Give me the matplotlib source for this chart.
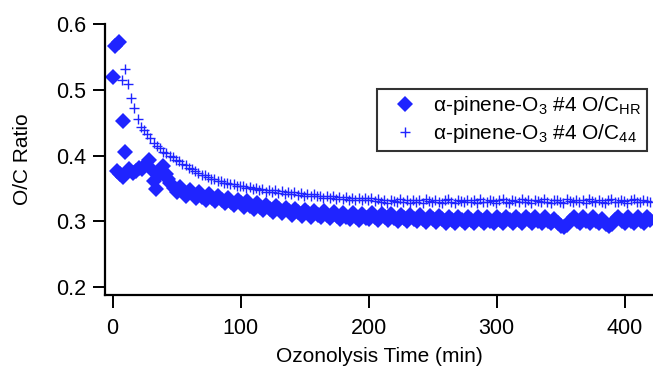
import numpy as np
import matplotlib
matplotlib.use("Agg")
import matplotlib.pyplot as plt

plt.rcParams['font.family'] = ['Liberation Sans', 'DejaVu Sans']
plt.rcParams['mathtext.fontset'] = 'custom'
plt.rcParams['mathtext.rm'] = 'Liberation Sans'
plt.rcParams['mathtext.it'] = 'Liberation Sans:italic'
plt.rcParams['mathtext.bf'] = 'Liberation Sans:bold'

# ---- data ----
# O/C_HR (diamonds): early points with explicit times
hr_time_early = [0, 2, 5, 8, 10, 3, 5.5, 8, 10.5, 13, 15.5, 18, 20.5, 23, 25.5, 28,
                 30, 32, 34, 36.5, 39, 41.5, 43.5]
hr_val_early = [0.520, 0.567, 0.573, 0.453, 0.406, 0.376, 0.372, 0.368, 0.373, 0.379,
                0.373, 0.376, 0.381, 0.379, 0.386, 0.393, 0.380, 0.362, 0.349, 0.372,
                0.384, 0.372, 0.364]
# O/C_HR regular sampling from 45 min, every 2.5 min
hr_start, hr_step = 45.0, 2.5
hr_val = [
    0.358, 0.350, 0.344, 0.352, 0.345, 0.339, 0.347, 0.342, 0.336, 0.344, 0.337,
    0.333, 0.342, 0.336, 0.331, 0.339, 0.332, 0.328, 0.336, 0.330,
    0.325, 0.333, 0.328, 0.322, 0.331, 0.324, 0.319, 0.328, 0.322, 0.317,
    0.325, 0.319, 0.314, 0.323, 0.318, 0.312, 0.321, 0.315, 0.310, 0.319,
    0.314, 0.308, 0.317, 0.312, 0.307, 0.316, 0.310, 0.306, 0.315, 0.309,
    0.305, 0.314, 0.308, 0.304, 0.313, 0.307, 0.303, 0.312, 0.306, 0.302,
    0.311, 0.305,
    0.303, 0.312, 0.307, 0.302, 0.311, 0.306, 0.302, 0.311,
    0.305, 0.301, 0.310, 0.305, 0.300, 0.309, 0.304, 0.300, 0.309, 0.304,
    0.299, 0.308, 0.303, 0.299, 0.308, 0.303, 0.298, 0.307, 0.302, 0.298,
    0.307, 0.302, 0.298, 0.307, 0.302, 0.297, 0.306, 0.302, 0.297, 0.306,
    0.301, 0.297, 0.307, 0.302, 0.298, 0.307, 0.302, 0.298, 0.307, 0.302,
    0.297, 0.306, 0.302, 0.297, 0.306, 0.301, 0.297, 0.306, 0.301, 0.297,
    0.303, 0.297, 0.293, 0.292, 0.295, 0.300, 0.306, 0.301, 0.297, 0.306,
    0.301, 0.297, 0.306, 0.301, 0.297, 0.303, 0.296, 0.293, 0.296, 0.302,
    0.306, 0.301, 0.297, 0.306, 0.301, 0.297, 0.306, 0.301, 0.297, 0.306, 0.302,
]

# O/C_44 (plus), every 2.5 min from 7 min
c44_start, c44_step = 7.0, 2.5
c44_val = [
    0.515, 0.531, 0.509, 0.488, 0.473, 0.456, 0.443, 0.439, 0.433, 0.426,
    0.419, 0.414, 0.411, 0.406, 0.404, 0.400, 0.398, 0.393, 0.391, 0.387,
    0.385, 0.381, 0.379, 0.376, 0.374, 0.371, 0.370, 0.368, 0.365, 0.365,
    0.362, 0.361, 0.359, 0.358, 0.357, 0.356, 0.354, 0.354,
    0.354, 0.350, 0.352, 0.349, 0.351, 0.347, 0.349, 0.345, 0.348, 0.344,
    0.347, 0.343, 0.346, 0.342, 0.345, 0.341, 0.344, 0.340, 0.343, 0.339,
    0.342, 0.338, 0.341, 0.338, 0.339, 0.336, 0.339, 0.335, 0.338, 0.334,
    0.337, 0.334, 0.337, 0.333, 0.336, 0.333, 0.336, 0.332, 0.335, 0.332,
    0.335, 0.331,
    0.334, 0.330, 0.332, 0.328, 0.333, 0.331, 0.329, 0.334, 0.330, 0.332,
    0.328, 0.333, 0.330, 0.332, 0.328, 0.334, 0.331, 0.329, 0.333, 0.330,
    0.328, 0.332, 0.334, 0.330, 0.328, 0.333, 0.331, 0.329, 0.333, 0.330,
    0.332, 0.328, 0.334, 0.330, 0.329, 0.333, 0.331, 0.328, 0.332, 0.334,
    0.330, 0.328, 0.333, 0.331, 0.329, 0.334, 0.330, 0.332, 0.328, 0.333,
    0.331, 0.329, 0.334, 0.330, 0.328, 0.332, 0.333, 0.330, 0.328, 0.334,
    0.331, 0.329, 0.333, 0.330, 0.332, 0.328, 0.334, 0.331, 0.329, 0.333,
    0.330, 0.328, 0.332, 0.334, 0.330, 0.329, 0.333, 0.331, 0.328, 0.332,
    0.334, 0.330, 0.329, 0.333, 0.331, 0.330,
]

x_ticks = [0, 100, 200, 300, 400]
y_ticks = [0.2, 0.3, 0.4, 0.5, 0.6]
label_hr = r'α-pinene-O$_\mathregular{3}$ #4 O/C$_\mathregular{HR}$'
label_44 = r'α-pinene-O$_\mathregular{3}$ #4 O/C$_\mathregular{44}$'
xlabel = 'Ozonolysis Time (min)'
ylabel = 'O/C Ratio'

# ---- build ----
hr_t = np.concatenate([np.array(hr_time_early), hr_start + hr_step * np.arange(len(hr_val))])
hr_v = np.concatenate([np.array(hr_val_early), np.array(hr_val)])
c44_t = c44_start + c44_step * np.arange(len(c44_val))
c44_v = np.array(c44_val)

color = '#1f24ff'

fig = plt.figure(figsize=(6.53, 3.81), dpi=100)
ax = fig.add_axes([105 / 653, 1 - 295 / 381, (653 - 105) / 653, (295 - 24) / 381])

ax.plot(hr_t, hr_v, linestyle='none', marker='D', markersize=8, color=color,
        markeredgewidth=0, label=label_hr)
ax.plot(c44_t, c44_v, linestyle='none', marker='+', markersize=7.5, color=color,
        markeredgewidth=1.0, label=label_44)

ax.set_xlim(-6, 422)
ax.set_ylim(0.188, 0.6)
ax.set_xticks(x_ticks)
ax.set_yticks(y_ticks)
ax.set_xticklabels([str(t) for t in x_ticks])
ax.set_yticklabels([f'{t:.1f}' for t in y_ticks])

for s in ['top', 'right']:
    ax.spines[s].set_visible(False)
for s in ['left', 'bottom']:
    ax.spines[s].set_linewidth(1.6)
ax.tick_params(direction='out', length=9, width=1.4, labelsize=15.5)
ax.tick_params(axis='x', pad=7.5)
ax.tick_params(axis='y', pad=4.5)

ax.set_xlabel(xlabel, fontsize=15)
ax.set_ylabel(ylabel, fontsize=15)
ax.xaxis.set_label_coords(0.5, -(347 - 295) / 271)
ax.yaxis.set_label_coords((32.5 - 105) / 548, 0.5)

leg = ax.legend(loc='upper right', bbox_to_anchor=(0.989, 0.760), borderaxespad=0,
                fontsize=15, fancybox=False, frameon=True, handlelength=2.2,
                handletextpad=0.25, borderpad=0.25, labelspacing=0.25)
leg.get_frame().set_edgecolor('black')
leg.get_frame().set_linewidth(1.5)

fig.savefig('out.png', dpi=100)
